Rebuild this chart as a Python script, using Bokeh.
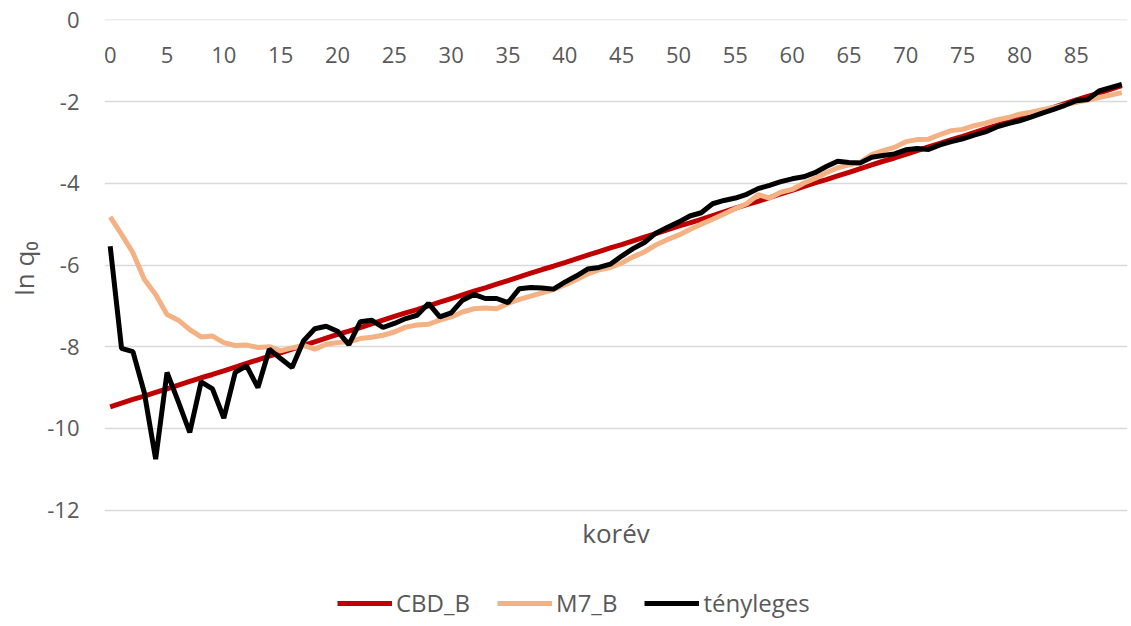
from bokeh.plotting import figure
from bokeh.models import Range1d, FixedTicker, Legend, LegendItem, ColumnDataSource, Label, Title
from bokeh.core.properties import value
from bokeh.embed import file_html
from bokeh.resources import INLINE

ages = list(range(90))

cbd_b = [-9.47, -9.38, -9.29, -9.21, -9.12, -9.03, -8.94, -8.85, -8.76, -8.68,
         -8.59, -8.50, -8.41, -8.32, -8.23, -8.15, -8.06, -7.97, -7.88, -7.79,
         -7.70, -7.62, -7.53, -7.44, -7.35, -7.26, -7.17, -7.09, -7.00, -6.91,
         -6.82, -6.73, -6.64, -6.56, -6.47, -6.38, -6.29, -6.20, -6.11, -6.03,
         -5.94, -5.85, -5.76, -5.67, -5.58, -5.50, -5.41, -5.32, -5.23, -5.14,
         -5.05, -4.97, -4.88, -4.79, -4.70, -4.61, -4.52, -4.44, -4.35, -4.26,
         -4.17, -4.08, -3.99, -3.91, -3.82, -3.73, -3.64, -3.55, -3.46, -3.38,
         -3.29, -3.20, -3.11, -3.02, -2.93, -2.85, -2.76, -2.67, -2.58, -2.49,
         -2.40, -2.32, -2.23, -2.14, -2.05, -1.96, -1.87, -1.79, -1.70, -1.61]

m7_b = [-4.82, -5.25, -5.70, -6.35, -6.72, -7.21, -7.35, -7.58, -7.76, -7.74,
        -7.90, -7.97, -7.96, -8.02, -8.00, -8.10, -8.03, -7.97, -8.06, -7.94,
        -7.90, -7.88, -7.80, -7.77, -7.72, -7.64, -7.52, -7.47, -7.45, -7.35,
        -7.27, -7.15, -7.07, -7.05, -7.07, -6.94, -6.84, -6.76, -6.68, -6.60,
        -6.49, -6.36, -6.22, -6.12, -6.06, -5.95, -5.80, -5.68, -5.51, -5.38,
        -5.27, -5.13, -5.00, -4.88, -4.75, -4.62, -4.50, -4.28, -4.36, -4.22,
        -4.15, -4.00, -3.88, -3.74, -3.62, -3.55, -3.48, -3.30, -3.20, -3.12,
        -2.98, -2.93, -2.92, -2.81, -2.71, -2.68, -2.59, -2.53, -2.45, -2.39,
        -2.31, -2.26, -2.20, -2.14, -2.08, -2.02, -1.96, -1.90, -1.84, -1.78]

tenyleges = [-5.54, -8.04, -8.12, -9.12, -10.75, -8.63, -9.35, -10.10, -8.86, -9.03,
             -9.75, -8.63, -8.47, -9.00, -8.06, -8.29, -8.51, -7.86, -7.56, -7.50,
             -7.62, -7.95, -7.39, -7.35, -7.53, -7.43, -7.31, -7.23, -6.94, -7.27,
             -7.17, -6.86, -6.72, -6.82, -6.82, -6.92, -6.58, -6.55, -6.56, -6.59,
             -6.42, -6.27, -6.10, -6.06, -5.98, -5.78, -5.60, -5.45, -5.22, -5.08,
             -4.95, -4.80, -4.72, -4.50, -4.42, -4.36, -4.27, -4.13, -4.05, -3.96,
             -3.89, -3.84, -3.74, -3.59, -3.46, -3.49, -3.50, -3.36, -3.32, -3.28,
             -3.18, -3.15, -3.17, -3.06, -2.98, -2.91, -2.82, -2.74, -2.62, -2.54,
             -2.47, -2.38, -2.28, -2.19, -2.09, -1.98, -1.95, -1.74, -1.66, -1.58]

x_tick_values = [0, 5, 10, 15, 20, 25, 30, 35, 40, 45, 50, 55, 60, 65, 70, 75, 80, 85]
x_tick_labels = [str(v) for v in x_tick_values]
y_ticks = [-12, -10, -8, -6, -4, -2, 0]
y_tick_labels = ["-12", "-10", "-8", "-6", "-4", "-2", "0"]

FONT = "Open Sans"
GREY = "#595959"

# the frame runs down to the bottom of the canvas so that the axis title
# and the legend (which sit below the -12 grid line) are drawn inside it
p = figure(width=1128, height=624, output_backend="svg", toolbar_location=None,
           x_axis_type=None,
           x_range=Range1d(-0.5, 89.5), y_range=Range1d(-14.8, 0.01),
           min_border_left=104, min_border_right=1, min_border_top=19, min_border_bottom=0)
p.outline_line_color = None
p.background_fill_color = "white"
p.border_fill_color = "white"

# grid
p.ygrid.grid_line_color = "#D9D9D9"
p.ygrid.grid_line_width = 1.5
p.yaxis.ticker = FixedTicker(ticks=y_ticks)
p.yaxis.major_label_overrides = dict(zip(y_ticks, y_tick_labels))

# y axis
p.yaxis.axis_line_color = None
p.yaxis.major_tick_line_color = None
p.yaxis.minor_tick_line_color = None
p.yaxis.major_tick_in = 0
p.yaxis.major_tick_out = 0
p.yaxis.major_label_standoff = 25
p.yaxis.major_label_text_font = FONT
p.yaxis.major_label_text_font_size = "22px"
p.yaxis.major_label_text_color = GREY

ytitle = Title(text="ln q\u2080", align="right", offset=222, standoff=6,
               text_font=FONT, text_font_size="26px", text_font_style="normal",
               text_color=GREY)
p.add_layout(ytitle, "left")

# x axis title
xtitle = Label(x=44.5, y=-12.55, text="korév", text_align="center", text_baseline="middle",
               text_font=FONT, text_font_size="26px", text_color=GREY)
p.add_layout(xtitle)

# category labels along the y=0 line
lab_src = ColumnDataSource(dict(x=x_tick_values, y=[0] * len(x_tick_values), t=x_tick_labels))
p.text(x="x", y="y", text="t", source=lab_src, y_offset=35,
       text_align="center", text_baseline="middle",
       text_font=value(FONT), text_font_size="22px", text_color=GREY)

src = ColumnDataSource(dict(age=ages, cbd=cbd_b, m7=m7_b, t=tenyleges))
r1 = p.line("age", "cbd", source=src, line_color="#C00000", line_width=5)
r2 = p.line("age", "m7", source=src, line_color="#F4B183", line_width=5)
r3 = p.line("age", "t", source=src, line_color="#000000", line_width=5)

legend = Legend(items=[LegendItem(label="CBD_B", renderers=[r1]),
                       LegendItem(label="M7_B", renderers=[r2]),
                       LegendItem(label="tényleges", renderers=[r3])],
                orientation="horizontal", location=(233, 5),
                label_text_font=FONT, label_text_font_size="24px", label_text_color=GREY,
                glyph_width=55, glyph_height=22, label_standoff=4, spacing=27,
                padding=0, margin=0, border_line_color=None, background_fill_alpha=0)
p.add_layout(legend, "center")

open("out.html", "w").write(file_html(p, INLINE))
